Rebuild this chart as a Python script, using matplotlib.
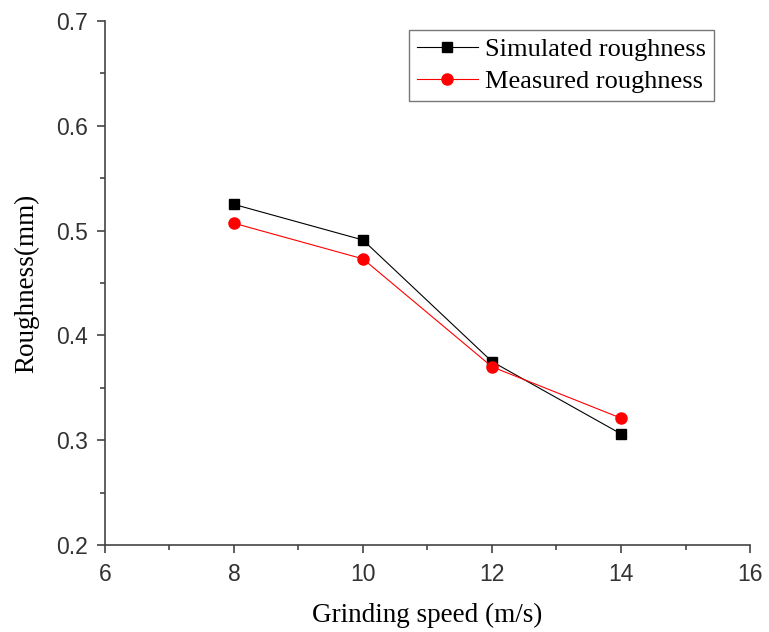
import matplotlib.pyplot as plt
from matplotlib.ticker import MultipleLocator

speed = [8, 10, 12, 14]
simulated = [0.525, 0.491, 0.375, 0.306]
measured = [0.507, 0.473, 0.370, 0.321]

fig = plt.figure(figsize=(7.69, 6.32), dpi=100)
ax = fig.add_axes([0.1365, 0.1377, 0.8388, 0.8291])

ax.plot(speed, simulated, color="black", lw=0.8, marker="s", ms=7, label="Simulated roughness")
ax.plot(speed, measured, color="red", lw=0.8, marker="o", ms=8, label="Measured roughness")

ax.set_xlim(6, 16)
ax.set_ylim(0.2, 0.7)
ax.xaxis.set_major_locator(MultipleLocator(2))
ax.xaxis.set_minor_locator(MultipleLocator(1))
ax.yaxis.set_major_locator(MultipleLocator(0.1))
ax.yaxis.set_minor_locator(MultipleLocator(0.05))

for s in ["top", "right"]:
    ax.spines[s].set_visible(False)
for s in ["left", "bottom"]:
    ax.spines[s].set_color("#444444")
    ax.spines[s].set_linewidth(1.2)

ax.tick_params(which="major", direction="out", length=6, width=1.2, color="#444444",
               labelsize=16.5, labelcolor="#333333")
ax.tick_params(axis="x", which="major", pad=7)
ax.tick_params(axis="y", which="major", pad=6)
ax.tick_params(which="minor", direction="out", length=3.5, width=1.2, color="#444444")
for lab in ax.get_xticklabels() + ax.get_yticklabels():
    lab.set_fontfamily("Liberation Sans")

ax.set_xlabel("Grinding speed (m/s)", fontsize=19.5, family="Liberation Serif", labelpad=12)
ax.set_ylabel("Roughness(mm)", fontsize=19.5, family="Liberation Serif", labelpad=12)

leg = ax.legend(loc="upper right", bbox_to_anchor=(0.953, 0.993),
                prop={"family": "Liberation Serif", "size": 19},
                fancybox=False, edgecolor="#555555", handlelength=2.3, borderpad=0.3,
                labelspacing=0.32, handletextpad=0.3, borderaxespad=0.2)
leg.get_frame().set_linewidth(1.0)

plt.savefig("out.png")
